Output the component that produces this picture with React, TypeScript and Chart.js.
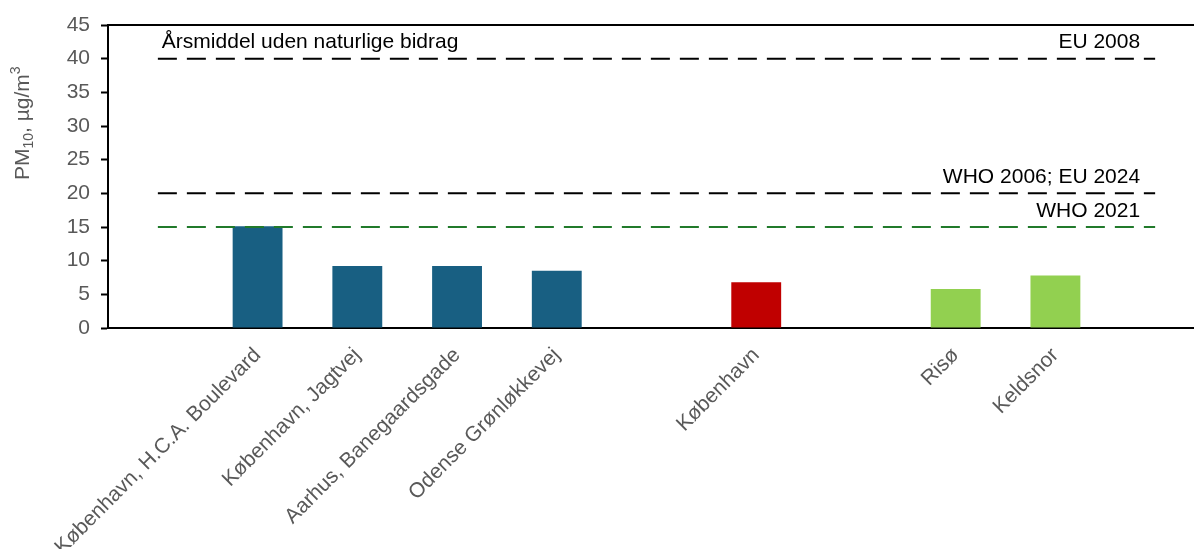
import React, { useEffect, useRef } from "react";
import { Chart, registerables } from "chart.js";

Chart.register(...registerables);

const categories = [
  "",
  "København, H.C.A. Boulevard",
  "København, Jagtvej",
  "Aarhus, Banegaardsgade",
  "Odense Grønløkkevej",
  "",
  "København",
  "",
  "Risø",
  "Keldsnor",
  "",
];
const pm10Values = [null, 15.1, 9.2, 9.2, 8.5, null, 6.8, null, 5.8, 7.8, null];
const barColors = [
  "#185F82", "#185F82", "#185F82", "#185F82", "#185F82", "#185F82",
  "#C00000", "#92D050", "#92D050", "#92D050", "#92D050",
];
const yTicks = [0, 5, 10, 15, 20, 25, 30, 35, 40, 45];

const limitNames = ["EU 2008", "WHO 2006; EU 2024", "WHO 2021"];
const limitValues = [40, 20, 15];
const limitColors = ["#000000", "#000000", "#217A2B"];
const headerText = "Årsmiddel uden naturlige bidrag";

const FONT = "'Liberation Sans', Arial, sans-serif";

const overlayPlugin = {
  id: "overlay",
  afterDraw(chart: any) {
    const ctx = chart.ctx;
    const { left, right, top } = chart.chartArea;
    const xs = chart.scales.x;
    const ys = chart.scales.y;
    ctx.save();
    // top border
    ctx.strokeStyle = "#000";
    ctx.lineWidth = 2;
    ctx.beginPath();
    ctx.moveTo(left - 1, top);
    ctx.lineTo(right, top);
    ctx.stroke();

    // annotation texts
    ctx.fillStyle = "#000";
    ctx.font = `21px ${FONT}`;
    ctx.textBaseline = "alphabetic";
    const firstX = xs.getPixelForValue(0);
    const lastX = xs.getPixelForValue(categories.length - 1);
    ctx.textAlign = "left";
    ctx.fillText(headerText, firstX + 4, ys.getPixelForValue(limitValues[0]) - 10.5);
    ctx.textAlign = "right";
    limitNames.forEach((name, i) => {
      ctx.fillText(name, lastX - 15, ys.getPixelForValue(limitValues[i]) - 10.5);
    });

    // y axis title with sub/superscript
    ctx.fillStyle = "#595959";
    ctx.translate(29, 180);
    ctx.rotate(-Math.PI / 2);
    ctx.textAlign = "left";
    let x = 0;
    const seg = (t: string, size: number, dy: number) => {
      ctx.font = `${size}px ${FONT}`;
      ctx.fillText(t, x, dy);
      x += ctx.measureText(t).width;
    };
    seg("PM", 21, 0);
    seg("10", 14, 4);
    seg(", µg/m", 21, 0);
    seg("3", 14, -9);
    ctx.restore();
  },
};

export default function App() {
  const ref = useRef<HTMLCanvasElement | null>(null);
  useEffect(() => {
    if (!ref.current) return;
    const lineSets = limitValues.map((v, i) => ({
      type: "line" as const,
      label: limitNames[i],
      data: categories.map(() => v),
      borderColor: limitColors[i],
      borderWidth: 2,
      borderDash: [19, 10],
      pointRadius: 0,
      fill: false,
      order: 0,
    }));
    const chart = new Chart(ref.current, {
      type: "bar",
      data: {
        labels: categories,
        datasets: [
          {
            type: "bar",
            label: "PM10",
            data: pm10Values as any,
            backgroundColor: barColors,
            barPercentage: 0.5,
            categoryPercentage: 1,
            order: 1,
          },
          ...lineSets,
        ] as any,
      },
      options: {
        animation: false,
        responsive: false,
        devicePixelRatio: 1,
        layout: { padding: { top: 25, right: 25, left: 0, bottom: 0 } },
        plugins: { legend: { display: false }, tooltip: { enabled: false } },
        scales: {
          x: {
            grid: { display: false, drawTicks: false },
            border: { display: true, color: "#000", width: 2 },
            ticks: {
              autoSkip: false,
              maxRotation: 45,
              minRotation: 45,
              padding: 15,
              color: "#595959",
              font: { family: FONT, size: 21 },
            },
            afterFit: (s: any) => {
              s.height = 272;
              s.paddingLeft = 0;
              s.paddingRight = 0;
            },
          },
          y: {
            min: 0,
            max: 45,
            afterBuildTicks: (s: any) => {
              s.ticks = yTicks.map((v) => ({ value: v }));
            },
            grid: {
              display: true,
              drawOnChartArea: false,
              drawTicks: true,
              tickLength: 7,
              tickColor: "#000",
              tickWidth: 2,
              color: "#000",
            },
            border: { display: true, color: "#000", width: 2 },
            ticks: {
              padding: 11,
              color: "#595959",
              font: { family: FONT, size: 21 },
            },
            afterFit: (s: any) => {
              s.width = 108;
              s.paddingTop = 0;
              s.paddingBottom = 0;
            },
          },
        },
      },
      plugins: [overlayPlugin],
    });
    return () => chart.destroy();
  }, []);
  return (
    <div style={{ position: "fixed", left: 0, top: 0, width: 1194, height: 549, overflow: "hidden", background: "#fff" }}>
      <canvas ref={ref} width={1230} height={600} style={{ display: "block", width: 1230, height: 600 }} />
    </div>
  );
}
